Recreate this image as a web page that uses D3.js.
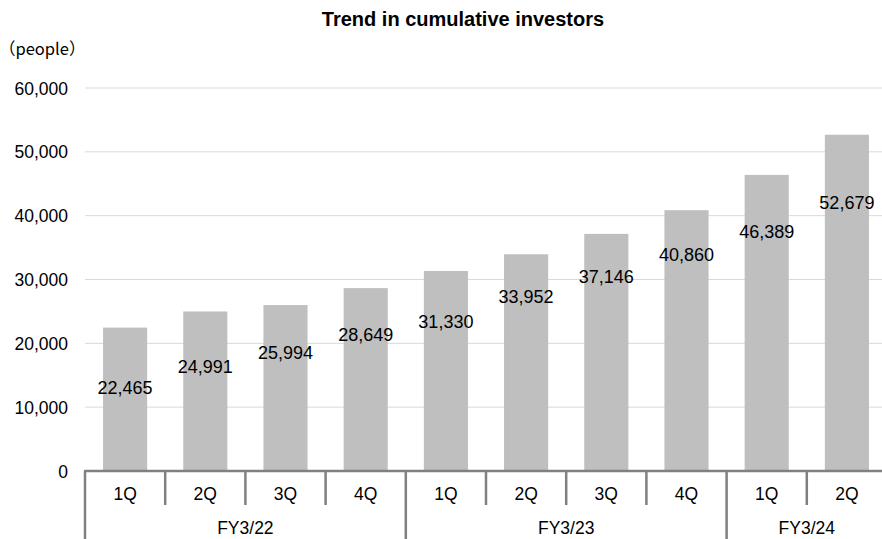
<!DOCTYPE html>
<html>
<head>
<meta charset="utf-8">
<script src="https://cdn.jsdelivr.net/npm/d3@7"></script>
<style>
  html, body { margin: 0; padding: 0; background: #fff; }
  svg { display: block; }
  text { font-family: "Liberation Sans", Arial, sans-serif; fill: #000; }
</style>
</head>
<body>
<svg id="chart" width="882" height="539"></svg>
<script>
// ---- data ----
const quarters = ["1Q", "2Q", "3Q", "4Q", "1Q", "2Q", "3Q", "4Q", "1Q", "2Q"];
const fiscalYears = ["FY3/22", "FY3/22", "FY3/22", "FY3/22", "FY3/23", "FY3/23", "FY3/23", "FY3/23", "FY3/24", "FY3/24"];
const investors = [22465, 24991, 25994, 28649, 31330, 33952, 37146, 40860, 46389, 52679];
// value (in axis units) at which each data label sits
const labelAnchor = [13000, 16300, 18500, 21300, 23400, 27300, 30450, 33850, 37450, 42050];
const yTicks = [0, 10000, 20000, 30000, 40000, 50000, 60000];
const title = "Trend in cumulative investors";
const unitLabel = "（people）";

// ---- layout ----
const svg = d3.select("#chart");
const mLeft = 85, mRight = 887, mTop = 88, mBottom = 471;

const x = d3.scaleBand()
  .domain(d3.range(investors.length))
  .range([mLeft, mRight])
  .paddingInner(0.45)
  .paddingOuter(0.225);

const y = d3.scaleLinear().domain([0, 60000]).range([mBottom, mTop]);

// title
svg.append("text")
  .attr("x", 463).attr("y", 26)
  .attr("text-anchor", "middle")
  .style("font-size", "20px").style("font-weight", "bold")
  .text(title);

// unit label
svg.append("text")
  .attr("x", -1).attr("y", 55)
  .style("font-family", "'Noto Sans CJK JP', 'Liberation Sans', sans-serif")
  .style("font-size", "16.5px")
  .text(unitLabel);

// gridlines
svg.append("g").selectAll("line")
  .data(yTicks.filter(d => d > 0))
  .join("line")
  .attr("x1", mLeft).attr("x2", 882)
  .attr("y1", d => y(d)).attr("y2", d => y(d))
  .attr("stroke", "#d9d9d9").attr("stroke-width", 1);

// y axis labels
const yAxis = d3.axisLeft(y).tickValues(yTicks).tickFormat(d3.format(",")).tickSize(0).tickPadding(0);
const gy = svg.append("g").attr("transform", `translate(68,0)`).call(yAxis);
gy.select(".domain").remove();
gy.selectAll("text")
  .style("font-family", "'Liberation Sans', Arial, sans-serif")
  .style("font-size", "17.5px").attr("fill", "#000")
  .attr("dy", "0.35em");

// bars
svg.append("g").selectAll("rect")
  .data(investors)
  .join("rect")
  .attr("x", (d, i) => x(i))
  .attr("width", x.bandwidth())
  .attr("y", d => y(d))
  .attr("height", d => y(0) - y(d))
  .attr("fill", "#bfbfbf");

// data labels
svg.append("g").selectAll("text")
  .data(investors)
  .join("text")
  .attr("x", (d, i) => x(i) + x.bandwidth() / 2)
  .attr("y", (d, i) => y(labelAnchor[i]))
  .attr("dy", "0.35em")
  .attr("text-anchor", "middle")
  .style("font-size", "18px")
  .text(d3.format(","));

// category axis: baseline
const step = x.step();
const edge = i => mLeft + i * step;
svg.append("line")
  .attr("x1", mLeft - 1).attr("x2", 882)
  .attr("y1", mBottom).attr("y2", mBottom)
  .attr("stroke", "#808080").attr("stroke-width", 2.5);

// separators
const groupStarts = [];
fiscalYears.forEach((fy, i) => { if (i === 0 || fiscalYears[i - 1] !== fy) groupStarts.push(i); });
const sepG = svg.append("g").attr("stroke", "#808080").attr("stroke-width", 2.5);
d3.range(investors.length + 1).forEach(i => {
  const isGroup = groupStarts.includes(i) || i === investors.length;
  sepG.append("line")
    .attr("x1", edge(i)).attr("x2", edge(i))
    .attr("y1", mBottom).attr("y2", isGroup ? 539 : 505);
});

// quarter labels
svg.append("g").selectAll("text")
  .data(quarters)
  .join("text")
  .attr("x", (d, i) => x(i) + x.bandwidth() / 2)
  .attr("y", 494)
  .attr("dy", "0.35em")
  .attr("text-anchor", "middle")
  .style("font-size", "17.5px")
  .text(d => d);

// fiscal year labels
const groups = groupStarts.map((s, k) => {
  const e = k + 1 < groupStarts.length ? groupStarts[k + 1] : fiscalYears.length;
  return { name: fiscalYears[s], s, e };
});
svg.append("g").selectAll("text")
  .data(groups)
  .join("text")
  .attr("x", g => (edge(g.s) + edge(g.e)) / 2)
  .attr("y", 528)
  .attr("dy", "0.35em")
  .attr("text-anchor", "middle")
  .style("font-size", "17.5px")
  .text(g => g.name);
</script>
</body>
</html>
